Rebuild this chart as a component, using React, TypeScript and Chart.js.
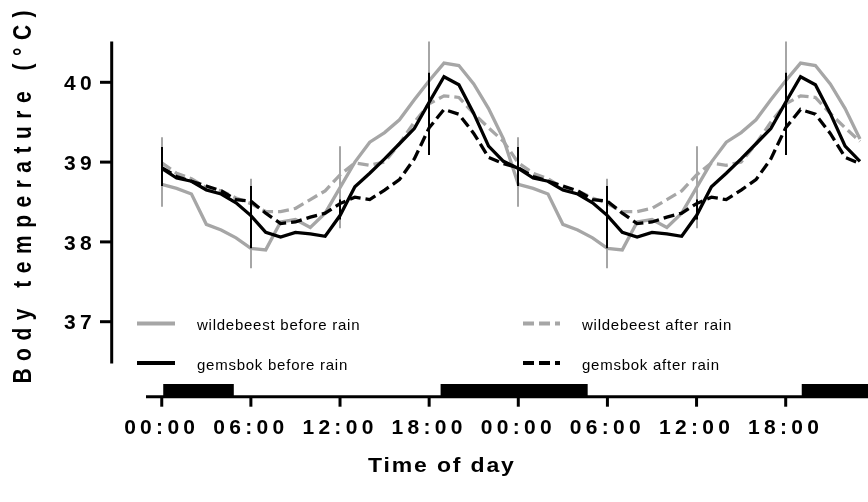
import React, { useEffect, useRef } from 'react';
import { Chart, registerables } from 'chart.js';

Chart.register(...registerables);

// ---------------- data ----------------
const HOURS = [
  0, 1, 2, 3, 4, 5, 6, 7, 8, 9, 10, 11, 12, 13, 14, 15, 16, 17, 18, 19, 20, 21, 22, 23,
  24, 25, 26, 27, 28, 29, 30, 31, 32, 33, 34, 35, 36, 37, 38, 39, 40, 41, 42, 43, 44, 45, 46, 47,
];

const X_TICK_HOURS = [0, 6, 12, 18, 24, 30, 36, 42];
const X_TICK_LABELS = ['00:00', '06:00', '12:00', '18:00', '00:00', '06:00', '12:00', '18:00'];
const Y_TICKS = [37, 38, 39, 40];

const WILDEBEEST_BEFORE = [
  38.72, 38.67, 38.60, 38.22, 38.15, 38.05, 37.92, 37.90, 38.25, 38.28, 38.18, 38.36,
  38.68, 39.00, 39.25, 39.37, 39.53, 39.78, 40.02, 40.24, 40.21, 39.98, 39.67, 39.29,
  38.72, 38.67, 38.60, 38.22, 38.15, 38.05, 37.92, 37.90, 38.25, 38.28, 38.18, 38.36,
  38.68, 39.00, 39.25, 39.37, 39.53, 39.78, 40.02, 40.24, 40.21, 39.98, 39.67, 39.29,
];
const WILDEBEEST_AFTER = [
  38.99, 38.86, 38.79, 38.68, 38.64, 38.55, 38.48, 38.38, 38.38, 38.42, 38.53, 38.64,
  38.84, 38.99, 38.96, 39.00, 39.23, 39.50, 39.73, 39.83, 39.81, 39.61, 39.43, 39.26,
  38.99, 38.86, 38.79, 38.68, 38.64, 38.55, 38.48, 38.38, 38.38, 38.42, 38.53, 38.64,
  38.84, 38.99, 38.96, 39.00, 39.23, 39.50, 39.73, 39.83, 39.81, 39.61, 39.43, 39.26,
];
const GEMSBOK_BEFORE = [
  38.92, 38.80, 38.76, 38.65, 38.60, 38.49, 38.33, 38.12, 38.06, 38.12, 38.10, 38.07,
  38.33, 38.69, 38.86, 39.04, 39.23, 39.42, 39.75, 40.07, 39.97, 39.61, 39.20, 39.01,
  38.92, 38.80, 38.76, 38.65, 38.60, 38.49, 38.33, 38.12, 38.06, 38.12, 38.10, 38.07,
  38.33, 38.69, 38.86, 39.04, 39.23, 39.42, 39.75, 40.07, 39.97, 39.61, 39.20, 39.01,
];
const GEMSBOK_AFTER = [
  38.93, 38.82, 38.76, 38.70, 38.64, 38.53, 38.51, 38.36, 38.23, 38.25, 38.31, 38.36,
  38.48, 38.56, 38.53, 38.65, 38.78, 39.04, 39.43, 39.66, 39.60, 39.36, 39.06, 38.98,
  38.93, 38.82, 38.76, 38.70, 38.64, 38.53, 38.51, 38.36, 38.23, 38.25, 38.31, 38.36,
  38.48, 38.56, 38.53, 38.65, 38.78, 39.04, 39.43, 39.66, 39.60, 39.36, 39.06, 38.98,
];

// error bars (vertical spans, no caps)
const ERR_HOURS = [0, 6, 12, 18, 24, 30, 36, 42];
const WILDEBEEST_ERR_LOW = [38.44, 37.67, 38.17, 39.30, 38.44, 37.67, 38.17, 39.30];
const WILDEBEEST_ERR_HIGH = [39.31, 38.79, 39.20, 40.51, 39.31, 38.79, 39.20, 40.51];
const GEMSBOK_ERR_LOW = [38.70, 37.92, 38.28, 39.09, 38.70, 37.92, 38.28, 39.09];
const GEMSBOK_ERR_HIGH = [39.19, 38.70, 38.53, 40.12, 39.19, 38.70, 38.53, 40.12];

// night (dark) periods on the time axis, in hours
const NIGHT_START = [0.1, 18.77, 43.08];
const NIGHT_END = [4.85, 28.67, 48];

const SERIES_NAMES = [
  'wildebeest before rain',
  'wildebeest after rain',
  'gemsbok before rain',
  'gemsbok after rain',
];
const X_TITLE = 'Time of day';
const Y_TITLE = 'Body temperature (°C)';

// ---------------- styles ----------------
const GRAY = '#a6a6a6';
const BLACK = '#000000';
const DASH = [11, 5];
const FONT = "'Liberation Sans', Arial, Helvetica, sans-serif";

const seriesStyle = [
  { color: GRAY, dash: [] as number[] },
  { color: GRAY, dash: DASH },
  { color: BLACK, dash: [] as number[] },
  { color: BLACK, dash: DASH },
];

function drawText(
  ctx: CanvasRenderingContext2D,
  text: string,
  x: number,
  y: number,
  font: string,
  spacing: number,
  align: 'left' | 'center',
  stretch: number,
  rotate: boolean
) {
  ctx.save();
  ctx.font = font;
  (ctx as any).letterSpacing = spacing + 'px';
  ctx.textBaseline = 'middle';
  ctx.textAlign = 'left';
  ctx.fillStyle = '#000';
  const w = ctx.measureText(text).width - spacing;
  ctx.translate(x, y);
  if (rotate) {
    ctx.rotate(-Math.PI / 2);
    ctx.scale(1, stretch);
  } else {
    ctx.scale(stretch, 1);
  }
  ctx.fillText(text, align === 'center' ? -w / 2 : 0, 0);
  ctx.restore();
}

const decorPlugin = {
  id: 'decor',
  beforeDraw(chart: any) {
    (chart.ctx as any).letterSpacing = '4.3px';
  },
  beforeDatasetsDraw(chart: any) {
    (chart.ctx as any).letterSpacing = '0px';
  },
  afterDatasetsDraw(chart: any) {
    const ctx: CanvasRenderingContext2D = chart.ctx;
    const xs = chart.scales.x;
    const ys = chart.scales.y;
    ctx.save();
    ctx.lineCap = 'butt';
    ctx.lineWidth = 2;
    const bars = [
      { low: WILDEBEEST_ERR_LOW, high: WILDEBEEST_ERR_HIGH, color: GRAY },
      { low: GEMSBOK_ERR_LOW, high: GEMSBOK_ERR_HIGH, color: BLACK },
    ];
    bars.forEach((b) => {
      ctx.strokeStyle = b.color;
      ERR_HOURS.forEach((h, i) => {
        const px = Math.round(xs.getPixelForValue(h));
        ctx.beginPath();
        ctx.moveTo(px, ys.getPixelForValue(b.low[i]));
        ctx.lineTo(px, ys.getPixelForValue(b.high[i]));
        ctx.stroke();
      });
    });
    ctx.restore();
  },
  afterDraw(chart: any) {
    const ctx: CanvasRenderingContext2D = chart.ctx;
    const xs = chart.scales.x;
    const ys = chart.scales.y;
    const area = chart.chartArea;
    ctx.save();
    (ctx as any).letterSpacing = '0px';
    ctx.strokeStyle = '#000';
    ctx.fillStyle = '#000';
    ctx.lineWidth = 3;
    ctx.lineCap = 'butt';

    // y axis (offset to the left of the plot)
    const axisX = 111.7;
    ctx.beginPath();
    ctx.moveTo(axisX, area.top - 1);
    ctx.lineTo(axisX, area.bottom + 1.8);
    ctx.stroke();
    Y_TICKS.forEach((t) => {
      const py = ys.getPixelForValue(t);
      ctx.beginPath();
      ctx.moveTo(100, py);
      ctx.lineTo(axisX, py);
      ctx.stroke();
    });

    // x axis (offset below the plot)
    const axisY = 396.7;
    ctx.beginPath();
    ctx.moveTo(area.left, axisY);
    ctx.lineTo(area.right + 2, axisY);
    ctx.stroke();
    X_TICK_HOURS.forEach((h) => {
      const px = xs.getPixelForValue(h);
      ctx.beginPath();
      ctx.moveTo(px, axisY);
      ctx.lineTo(px, axisY + 10);
      ctx.stroke();
    });

    // night bars sitting on the x axis
    NIGHT_START.forEach((s, i) => {
      const x1 = xs.getPixelForValue(s);
      const x2 = xs.getPixelForValue(NIGHT_END[i]);
      ctx.fillRect(x1, 384, x2 - x1, axisY - 384 + 1);
    });

    // legend
    const cols = [137, 522];
    const rows = [323.5, 363];
    SERIES_NAMES.forEach((name, i) => {
      const cx = cols[i % 2];
      const cy = rows[Math.floor(i / 2)];
      const st = seriesStyle[i];
      ctx.save();
      ctx.strokeStyle = st.color;
      ctx.lineWidth = 4;
      ctx.setLineDash(st.dash);
      ctx.beginPath();
      ctx.moveTo(cx + (st.dash.length ? 1 : 0), cy);
      ctx.lineTo(cx + 38, cy);
      ctx.stroke();
      ctx.restore();
      drawText(ctx, name, cx + 60, cy + 2.5, `normal 15px ${FONT}`, 0.75, 'left', 1, false);
    });

    // axis titles
    drawText(ctx, X_TITLE, 441, 466, `bold 20px ${FONT}`, 1.6, 'center', 1.15, false);
    drawText(ctx, Y_TITLE, 24, 197, `bold 21px ${FONT}`, 7.5, 'center', 1.2, true);

    ctx.restore();
  },
};

export default function App() {
  const canvasRef = useRef<HTMLCanvasElement | null>(null);

  useEffect(() => {
    const canvas = canvasRef.current;
    if (!canvas) return;
    const seriesData = [WILDEBEEST_BEFORE, WILDEBEEST_AFTER, GEMSBOK_BEFORE, GEMSBOK_AFTER];
    const datasets = SERIES_NAMES.map((name, i) => ({
      label: name,
      data: HOURS.map((h, j) => ({ x: h, y: seriesData[i][j] })),
      borderColor: seriesStyle[i].color,
      backgroundColor: seriesStyle[i].color,
      borderWidth: 3.3,
      borderDash: seriesStyle[i].dash,
      pointRadius: 0,
      pointHoverRadius: 0,
      tension: 0,
      fill: false,
      order: [4, 3, 2, 1][i],
    }));

    const tickFont = { family: FONT, size: 21, weight: 'bold' as const };

    const chart = new Chart(canvas, {
      type: 'line',
      data: { datasets },
      plugins: [decorPlugin],
      options: {
        animation: false,
        responsive: false,
        devicePixelRatio: 1,
        layout: { padding: { top: 42.4, right: 0, bottom: 0, left: 0 } },
        plugins: {
          legend: { display: false },
          tooltip: { enabled: false },
          title: { display: false },
        },
        scales: {
          x: {
            type: 'linear',
            min: -1.06,
            max: 47.54,
            grid: { display: false, drawTicks: true, tickLength: 44 },
            border: { display: false },
            afterBuildTicks: (scale: any) => {
              scale.ticks = X_TICK_HOURS.map((v) => ({ value: v }));
            },
            afterFit: (scale: any) => {
              scale.height = 140.4;
            },
            ticks: {
              autoSkip: false,
              maxRotation: 0,
              minRotation: 0,
              padding: 10.3,
              color: '#000',
              font: tickFont,
              callback: (v: any) => {
                const idx = X_TICK_HOURS.indexOf(Number(v));
                return idx >= 0 ? X_TICK_LABELS[idx] : '';
              },
            },
          },
          y: {
            type: 'linear',
            min: 36.5,
            max: 40.5,
            grid: { display: false, drawTicks: true, tickLength: 40 },
            border: { display: false },
            afterBuildTicks: (scale: any) => {
              scale.ticks = Y_TICKS.map((v) => ({ value: v }));
            },
            afterFit: (scale: any) => {
              scale.width = 146;
            },
            ticks: {
              padding: 10,
              labelOffset: 2,
              color: '#000',
              font: tickFont,
              callback: (v: any) => String(v),
            },
          },
        },
      },
    });

    return () => {
      chart.destroy();
    };
  }, []);

  return (
    <div style={{ position: 'fixed', left: 0, top: 0, width: 868, height: 502, background: '#fff' }}>
      <canvas ref={canvasRef} width={868} height={502} style={{ display: 'block', width: 868, height: 502 }} />
    </div>
  );
}
